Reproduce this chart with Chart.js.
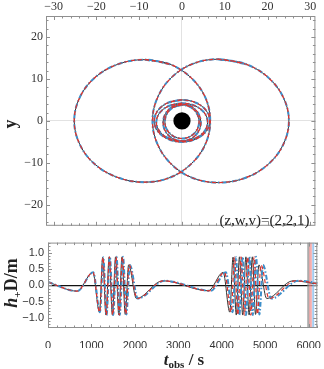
<!DOCTYPE html>
<html>
<head>
<meta charset="utf-8">
<script src="https://cdn.jsdelivr.net/npm/chart.js@4.4.0/dist/chart.umd.min.js"></script>
<style>
html, body { margin: 0; padding: 0; background: #fff; }
#wrap { position: relative; width: 324px; height: 369px; overflow: hidden; }
canvas { position: absolute; left: 0; }
#orbit { top: 0; }
#wave { top: 232px; }
</style>
</head>
<body>
<div id="wrap">
  <canvas id="orbit" width="324" height="236"></canvas>
  <canvas id="wave" width="324" height="137"></canvas>
</div>
<script>
// ---- orbit (x, y) ----
const leftLoop = [[-8.7,14.6],[-2.8,13.5],[2.1,10.3],[5.45,5.6],[6.6,0],[5.45,-5.6],[2.1,-10.3],[-2.8,-13.5],[-8.7,-14.6],[-15.0,-13.5],[-20.4,-10.3],[-23.9,-5.6],[-25.2,0],[-23.9,5.6],[-20.4,10.3],[-15.0,13.5]];
const rightLoop = [[8.4,14.7],[14.75,13.6],[20.1,10.4],[23.7,5.6],[25.0,0],[23.7,-5.6],[20.1,-10.4],[14.75,-13.6],[8.4,-14.7],[2.5,-13.6],[-2.4,-10.4],[-5.7,-5.6],[-6.9,0],[-5.7,5.6],[-2.4,10.4],[2.5,13.6]];
const eyeOuter = [[0,5.0],[-3.25,4.33],[-5.63,2.5],[-6.5,0],[-5.63,-2.5],[-3.25,-4.33],[0,-5.0],[3.25,-4.33],[5.63,-2.5],[6.5,0],[5.63,2.5],[3.25,4.33]];
const eyeInner = [[0,4.2],[-3.0,3.6],[-5.2,1.95],[-6.0,-0.3],[-5.2,-2.55],[-3.0,-4.2],[0,-4.8],[3.0,-4.2],[5.2,-2.55],[6.0,-0.3],[5.2,1.95],[3.0,3.6]];
const ringA = [[0,4.0],[-2.2,3.41],[-3.81,1.8],[-4.4,-0.4],[-3.81,-2.6],[-2.2,-4.21],[0,-4.8],[2.2,-4.21],[3.81,-2.6],[4.4,-0.4],[3.81,1.8],[2.2,3.41]];
const ringB = [[0,3.8],[-2.0,3.26],[-3.46,1.8],[-4.0,-0.2],[-3.46,-2.2],[-2.0,-3.66],[0,-4.2],[2.0,-3.66],[3.46,-2.2],[4.0,-0.2],[3.46,1.8],[2.0,3.26]];
const horizon = [[0, 0]];

// ---- waveform extrema, h+ D/m against t_obs (s) ----
const waveH = [0.10,-0.18,0.40,-0.83,0.87,-0.92,0.88,-0.92,0.88,-0.92,0.88,-0.90,0.63,-0.41,0.14,-0.17,0.40,-0.83,0.87,-0.92,0.88,-0.92,0.88,-0.92,0.88,-0.90,0.63,-0.41,0.14,0.04];
const tBlack = [0,670,1033,1185,1260,1334,1408,1482,1556,1630,1704,1778,1856,2036,2640,3690,4033,4185,4260,4334,4408,4482,4556,4630,4704,4778,4856,5036,5640,6200];
const tRed = [0,672,1037,1190,1266,1341,1416,1491,1566,1641,1716,1791,1870,2052,2662,3720,4064,4217,4293,4368,4444,4519,4595,4670,4746,4822,4902,5090,5700,6260];
const tBlue = [0,675,1042,1196,1272,1348,1424,1500,1576,1652,1728,1804,1884,2068,2686,3750,4095,4250,4327,4404,4481,4558,4635,4712,4789,4866,4950,5140,5760,6320];
const periodT = [5990, 6040, 6105];

// ---- tick labels ----
const orbitXTicks = [-30, -20, -10, 0, 10, 20, 30];
const orbitYTicks = [-20, -10, 0, 10, 20];
const waveXTicks = [0, 1000, 2000, 3000, 4000, 5000, 6000];
const waveYTicks = [-1, -0.5, 0, 0.5, 1];

const RED = '#e0332d', BLUE = '#3d8fca', BLACK = '#333333';
const styles = [
    { color: RED, width: 1.2, dash: [4, 3] },
    { color: BLUE, width: 2, dash: [5, 2, 1.5, 2] },
    { color: BLACK, width: 1, dash: [] }
];
const minus = s => s.replace('-', '\u2212');
const pts = arr => arr.map(([x, y]) => ({ x: x, y: y }));
// run once round the loop and a bit past the start so the join is smooth
const closeLoop = arr => arr.concat([arr[0], arr[1]]);

// frame with inward ticks on all four sides, like the original
const framePlugin = {
    id: 'frame',
    afterDraw(chart, args, o) {
        const { ctx, chartArea: a } = chart;
        const sx = chart.scales.x, sy = chart.scales.y;
        ctx.save();
        ctx.strokeStyle = '#8f8f8f';
        ctx.lineWidth = 1;
        ctx.strokeRect(a.left + 0.5, a.top + 0.5, a.right - a.left - 1, a.bottom - a.top - 1);
        ctx.beginPath();
        let v = Math.ceil(sx.min / o.xMinor) * o.xMinor;
        for (; v <= sx.max; v += o.xMinor) {
            const major = Math.abs(v / o.xMajor - Math.round(v / o.xMajor)) < 1e-6;
            const len = major ? 4 : 2.5;
            const p = Math.round(sx.getPixelForValue(v)) + 0.5;
            ctx.moveTo(p, a.top); ctx.lineTo(p, a.top + len);
            ctx.moveTo(p, a.bottom); ctx.lineTo(p, a.bottom - len);
        }
        v = Math.ceil(sy.min / o.yMinor) * o.yMinor;
        for (; v <= sy.max; v += o.yMinor) {
            const major = Math.abs(v / o.yMajor - Math.round(v / o.yMajor)) < 1e-6;
            const len = major ? 4 : 2.5;
            const p = Math.round(sy.getPixelForValue(v)) + 0.5;
            ctx.moveTo(a.left, p); ctx.lineTo(a.left + len, p);
            ctx.moveTo(a.right, p); ctx.lineTo(a.right - len, p);
        }
        ctx.stroke();
        ctx.restore();
    }
};

// rotated / subscripted titles, drawn as text runs
function drawRuns(ctx, runs, cx, cy, rotate) {
    ctx.save();
    ctx.translate(cx, cy);
    if (rotate) ctx.rotate(-Math.PI / 2);
    let total = 0;
    runs.forEach(r => { ctx.font = r.font; total += ctx.measureText(r.text).width; });
    let x = -total / 2;
    ctx.fillStyle = '#222';
    ctx.textBaseline = 'alphabetic';
    runs.forEach(r => {
        ctx.font = r.font;
        ctx.fillText(r.text, x, r.dy || 0);
        x += ctx.measureText(r.text).width;
    });
    ctx.restore();
}

const textPlugin = {
    id: 'labels',
    afterDraw(chart, args, o) {
        if (o.draw) o.draw(chart.ctx, chart);
    }
};

// ---------- top panel: orbit ----------
const orbitLoops = [leftLoop, rightLoop, eyeOuter, eyeInner, ringA, ringB];
const orbitSets = [{
    data: pts(horizon), showLine: false, pointRadius: 8.6,
    pointBackgroundColor: '#000', pointBorderWidth: 0
}];
styles.forEach(s => {
    orbitLoops.forEach(loop => {
        orbitSets.push({
            data: pts(closeLoop(loop)),
            showLine: true, pointRadius: 0, fill: false,
            borderColor: s.color, borderWidth: s.width, borderDash: s.dash,
            tension: 0.36
        });
    });
});

new Chart(document.getElementById('orbit'), {
    type: 'scatter',
    data: { datasets: orbitSets },
    options: {
        responsive: false, animation: false,
        layout: { padding: { left: 0, right: 4, top: 0, bottom: 5 } },
        plugins: {
            legend: { display: false }, tooltip: { enabled: false },
            frame: { xMajor: 10, xMinor: 2, yMajor: 10, yMinor: 2 },
            labels: {
                draw(ctx, chart) {
                    drawRuns(ctx, [{ text: 'y', font: 'bold 18px "Liberation Serif"' }], 16, 124, true);
                    ctx.save();
                    ctx.font = '15px "Liberation Serif"';
                    ctx.fillStyle = '#222';
                    ctx.textAlign = 'right';
                    ctx.textBaseline = 'middle';
                    ctx.fillText('(z,w,v)=(2,2,1)', chart.chartArea.right - 6, 221);
                    ctx.restore();
                }
            }
        },
        scales: {
            x: {
                type: 'linear', position: 'top', min: -31.8, max: 31.2,
                afterBuildTicks: s => { s.ticks = orbitXTicks.map(v => ({ value: v })); },
                afterFit: s => { s.height = 16; },
                border: { display: false },
                grid: { drawTicks: false, color: c => (c.tick && c.tick.value === 0) ? '#e2e2e2' : 'rgba(0,0,0,0)' },
                ticks: {
                    padding: 2, color: '#333', autoSkip: false, maxRotation: 0,
                    font: { family: 'Liberation Serif', size: 12 },
                    callback: v => minus(String(v))
                }
            },
            y: {
                type: 'linear', position: 'left', min: -25, max: 25,
                afterBuildTicks: s => { s.ticks = orbitYTicks.map(v => ({ value: v })); },
                afterFit: s => { s.width = 46; },
                border: { display: false },
                grid: { drawTicks: false, color: c => (c.tick && c.tick.value === 0) ? '#e2e2e2' : 'rgba(0,0,0,0)' },
                ticks: {
                    padding: 3, color: '#333', autoSkip: false,
                    font: { family: 'Liberation Serif', size: 12 },
                    callback: v => minus(String(v))
                }
            }
        }
    },
    plugins: [framePlugin, textPlugin]
});

// ---------- bottom panel: waveform ----------
const waveSets = [];
const bandColors = ['rgba(140,140,140,0.7)', 'rgba(240,140,140,0.7)', 'rgba(140,190,235,0.8)'];
const bandWidths = [2, 3, 2];
const series = [[tRed, 0], [tBlue, 1], [tBlack, 2]];
series.forEach(([ts, si]) => {
    const s = styles[si];
    waveSets.push({
        data: ts.map((t, i) => ({ x: t, y: waveH[i] })),
        showLine: true, pointRadius: 0, fill: false,
        borderColor: s.color, borderWidth: s.width, borderDash: s.dash,
        cubicInterpolationMode: 'monotone'
    });
});
periodT.forEach((t, i) => {
    waveSets.push({
        data: [{ x: t, y: -1.32 }, { x: t, y: 1.32 }],
        showLine: true, pointRadius: 0, borderColor: bandColors[i], borderWidth: bandWidths[i]
    });
});

new Chart(document.getElementById('wave'), {
    type: 'scatter',
    data: { datasets: waveSets },
    options: {
        responsive: false, animation: false,
        layout: { padding: { left: 0, right: 4, top: 5, bottom: 21 } },
        plugins: {
            legend: { display: false }, tooltip: { enabled: false },
            frame: { xMajor: 1000, xMinor: 200, yMajor: 0.5, yMinor: 0.1 },
            labels: {
                draw(ctx) {
                    drawRuns(ctx, [
                        { text: 'h', font: 'italic bold 18px "Liberation Serif"' },
                        { text: '+', font: 'bold 11px "Liberation Serif"', dy: 4 },
                        { text: 'D/m', font: 'bold 18px "Liberation Serif"' }
                    ], 17, 51, true);
                    drawRuns(ctx, [
                        { text: 't', font: 'italic bold 17px "Liberation Serif"' },
                        { text: 'obs', font: 'bold 11px "Liberation Serif"', dy: 3 },
                        { text: ' / s', font: 'bold 17px "Liberation Serif"' }
                    ], 184, 133, false);
                }
            }
        },
        scales: {
            x: {
                type: 'linear', position: 'bottom', min: 0, max: 6200,
                afterBuildTicks: s => { s.ticks = waveXTicks.map(v => ({ value: v })); },
                afterFit: s => { s.height = 20; },
                border: { display: false },
                grid: { display: false },
                ticks: {
                    padding: 3, color: '#333', autoSkip: false, maxRotation: 0,
                    font: { family: 'Liberation Sans', size: 11 },
                    callback: v => String(v)
                }
            },
            y: {
                type: 'linear', position: 'left', min: -1.32, max: 1.32,
                afterBuildTicks: s => { s.ticks = waveYTicks.map(v => ({ value: v })); },
                afterFit: s => { s.width = 48; },
                border: { display: false },
                grid: { drawTicks: false, lineWidth: 1.2, color: c => (c.tick && c.tick.value === 0) ? '#111' : 'rgba(0,0,0,0)' },
                ticks: {
                    padding: 4, color: '#333', autoSkip: false,
                    font: { family: 'Liberation Sans', size: 11 },
                    callback: v => minus(v.toFixed(1))
                }
            }
        }
    },
    plugins: [framePlugin, textPlugin]
});
</script>
</body>
</html>
